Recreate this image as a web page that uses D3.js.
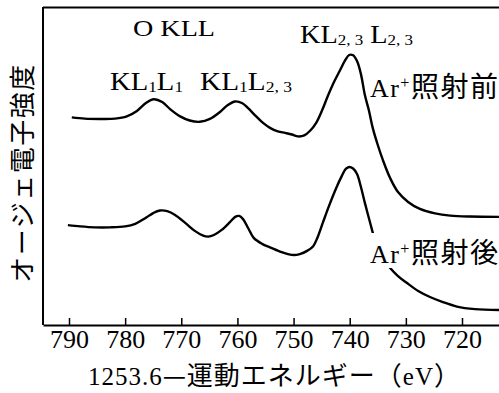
<!DOCTYPE html>
<html>
<head>
<meta charset="utf-8">
<script src="https://cdn.jsdelivr.net/npm/d3@7"></script>
<style>
  html, body { margin: 0; padding: 0; background: #fff; }
  svg { display: block; }
</style>
</head>
<body>
<svg id="chart" width="499" height="393"></svg>
<script>
// O KLL Auger spectra, before and after Ar+ sputtering
// kinetic energy axis is shown as 1253.6 − E (eV), decreasing to the right
const energyBefore = [789.5, 787.2, 784.5, 781.8, 779.7, 777.9, 776.3, 774.9, 773.4, 772.0,
  770.2, 768.5, 766.7, 764.9, 763.1, 761.7, 760.4, 759.2, 758.1, 756.9,
  755.6, 754.2, 752.8, 751.5, 750.3, 749.2, 748.1, 747.1, 746.0, 744.9,
  743.9, 742.8, 741.7, 740.8, 740.1, 739.4, 738.7, 738.0, 737.3, 736.6,
  735.9, 735.0, 734.1, 732.8, 731.4, 729.6, 727.5, 724.8, 722.1, 718.6, 713.4];
const intensityBefore = [65.3, 64.9, 64.8, 64.9, 65.6, 67.3, 69.8, 71.0, 70.1, 67.9,
  65.6, 64.3, 63.9, 64.8, 67.0, 69.2, 70.3, 69.8, 68.2, 66.0,
  63.8, 62.0, 60.9, 60.4, 59.9, 59.3, 59.6, 61.0, 63.5, 67.6,
  72.0, 76.4, 80.2, 83.3, 84.9, 84.8, 83.0, 78.9, 72.3, 67.6,
  62.0, 56.6, 51.9, 46.2, 41.8, 38.7, 36.5, 35.1, 34.4, 34.1, 34.0];

const energyAfter = [790.2, 788.0, 785.4, 782.7, 780.0, 778.2, 776.5, 775.0, 773.8, 772.5,
  771.1, 769.3, 767.6, 766.1, 765.2, 764.2, 762.8, 761.3, 760.4, 759.7,
  759.0, 758.1, 757.1, 755.6, 754.2, 752.4, 751.0, 749.9, 748.9, 747.6,
  746.5, 745.7, 744.8, 743.7, 742.4, 741.4, 740.7, 740.1, 739.4, 738.7,
  738.0, 737.3, 736.4, 735.5, 734.3, 732.8, 731.4, 729.8, 727.8, 725.7,
  723.4, 720.9, 717.7, 713.4];
const intensityAfter = [31.4, 31.0, 30.7, 30.7, 31.0, 31.8, 33.5, 35.2, 36.0, 35.8,
  34.6, 32.1, 29.6, 28.1, 27.8, 28.3, 29.9, 32.4, 34.0, 34.3,
  33.3, 30.5, 27.4, 25.5, 24.4, 23.1, 22.3, 22.0, 22.3, 23.3,
  24.8, 27.7, 32.1, 37.4, 43.1, 46.9, 49.1, 49.7, 49.2, 47.5,
  43.4, 38.4, 32.4, 26.7, 21.7, 17.9, 15.4, 13.2, 10.7, 8.8,
  7.2, 5.8, 5.0, 4.7];

const xTickValues = [790, 780, 770, 760, 750, 740, 730, 720];
const xTitleLatin = "1253.6";
const xTitleCJK = "—運動エネルギー（";
const xTitleUnit = "eV";
const xTitleClose = "）";
const yTitle = "オージェ電子強度";
const groupTitle = "O KLL";
const curveLabelBefore = "照射前";
const curveLabelAfter = "照射後";
const ionName = "Ar";

const W = 499, H = 393;
const margin = { left: 43, right: 0, top: 7, bottom: 68 };
const serif = "'Liberation Serif', 'DejaVu Serif', 'Noto Serif', 'Times New Roman', serif";
const cjk = "'Noto Sans CJK JP', 'Noto Sans CJK SC', sans-serif";

const svg = d3.select("#chart");
svg.append("rect").attr("width", W).attr("height", H).attr("fill", "#fff");

const x = d3.scaleLinear().domain([794.63, 713.41]).range([margin.left, W - margin.right]);
const y = d3.scaleLinear().domain([0, 100]).range([H - margin.bottom, margin.top]);

// frame: left and top borders
svg.append("line")
  .attr("x1", margin.left).attr("x2", margin.left)
  .attr("y1", margin.top).attr("y2", H - margin.bottom)
  .attr("stroke", "#000").attr("stroke-width", 2);
svg.append("line")
  .attr("x1", margin.left).attr("x2", W)
  .attr("y1", margin.top + 0.5).attr("y2", margin.top + 0.5)
  .attr("stroke", "#000").attr("stroke-width", 2);

// bottom axis with inward ticks
const xAxis = d3.axisBottom(x)
  .tickValues(xTickValues)
  .tickSizeInner(-7)
  .tickSizeOuter(0)
  .tickPadding(5)
  .tickFormat(d3.format("d"));
const gx = svg.append("g")
  .attr("transform", `translate(0,${H - margin.bottom})`)
  .call(xAxis)
  .attr("font-family", null);
gx.select(".domain").attr("stroke", "#000").attr("stroke-width", 2);
gx.selectAll(".tick line").attr("stroke", "#000").attr("stroke-width", 1.5);
gx.selectAll(".tick text")
  .style("font-family", serif)
  .style("font-size", "26px")
  .attr("fill", "#000");

// spectra
const line = d3.line()
  .x(d => x(d[0]))
  .y(d => y(d[1]))
  .curve(d3.curveCatmullRom.alpha(0.5));

const before = energyBefore.map((e, i) => [e, intensityBefore[i]]);
const after = energyAfter.map((e, i) => [e, intensityAfter[i]]);

svg.append("path").datum(before)
  .attr("d", line).attr("fill", "none")
  .attr("stroke", "#000").attr("stroke-width", 2.4)
  .attr("stroke-linejoin", "round");
svg.append("path").datum(after)
  .attr("d", line).attr("fill", "none")
  .attr("stroke", "#000").attr("stroke-width", 2.4)
  .attr("stroke-linejoin", "round");

// text with mixed runs: r = roman, s = subscript, p = superscript, j = Japanese
function richText(px, py, parts, base, width, adjust) {
  const t = svg.append("text").attr("x", px).attr("y", py).attr("fill", "#000");
  let shift = 0;
  parts.forEach(([str, kind]) => {
    const span = t.append("tspan").text(str);
    let target = 0;
    if (kind === "s") { span.style("font-family", serif).style("font-size", base * 0.6 + "px"); target = 1.5; }
    else if (kind === "p") { span.style("font-family", serif).style("font-size", base * 0.62 + "px"); target = -9; }
    else if (kind === "j") { span.style("font-family", cjk).style("font-size", base * 1.08 + "px"); }
    else { span.style("font-family", serif).style("font-size", base + "px"); }
    if (target !== shift) { span.attr("dy", target - shift); shift = target; }
  });
  if (width) t.attr("textLength", width).attr("lengthAdjust", adjust || "spacing");
  return t;
}

richText(133, 36, [[groupTitle, "r"]], 23, 82, "spacingAndGlyphs");

richText(110, 90, [["KL", "r"], ["1", "s"], ["L", "r"], ["1", "s"]], 25, 73, "spacingAndGlyphs");
richText(200, 90, [["KL", "r"], ["1", "s"], ["L", "r"], ["2, 3", "s"]], 25, 92, "spacingAndGlyphs");
richText(300, 43, [["KL", "r"], ["2, 3", "s"], [" L", "r"], ["2, 3", "s"]], 26, 113, "spacingAndGlyphs");

richText(370, 97, [[ionName, "r"], ["+", "p"], [curveLabelBefore, "j"]], 26, 128);

// lower label sits on a white patch that masks the curve behind it
const labelAfter = richText(370, 263, [[ionName, "r"], ["+", "p"], [curveLabelAfter, "j"]], 26, 128);
const bb = labelAfter.node().getBBox();
svg.insert("rect", function () { return labelAfter.node(); })
  .attr("x", bb.x - 1).attr("y", bb.y + 3)
  .attr("width", bb.width + 2).attr("height", bb.height - 6)
  .attr("fill", "#fff");

// axis titles
const xt = svg.append("text").attr("x", 88).attr("y", 385).attr("fill", "#000")
  .attr("textLength", 372).attr("lengthAdjust", "spacing");
xt.append("tspan").style("font-family", serif).style("font-size", "25px").text(xTitleLatin);
xt.append("tspan").style("font-family", cjk).style("font-size", "26px").text(xTitleCJK);
xt.append("tspan").style("font-family", serif).style("font-size", "25px").text(xTitleUnit);
xt.append("tspan").style("font-family", cjk).style("font-size", "26px").text(xTitleClose);

svg.append("text")
  .attr("transform", "translate(20,173) rotate(-90)")
  .attr("text-anchor", "middle")
  .attr("dominant-baseline", "central")
  .style("font-family", cjk)
  .style("font-size", "26px")
  .attr("letter-spacing", 1.5)
  .attr("fill", "#000")
  .text(yTitle);
</script>
</body>
</html>
